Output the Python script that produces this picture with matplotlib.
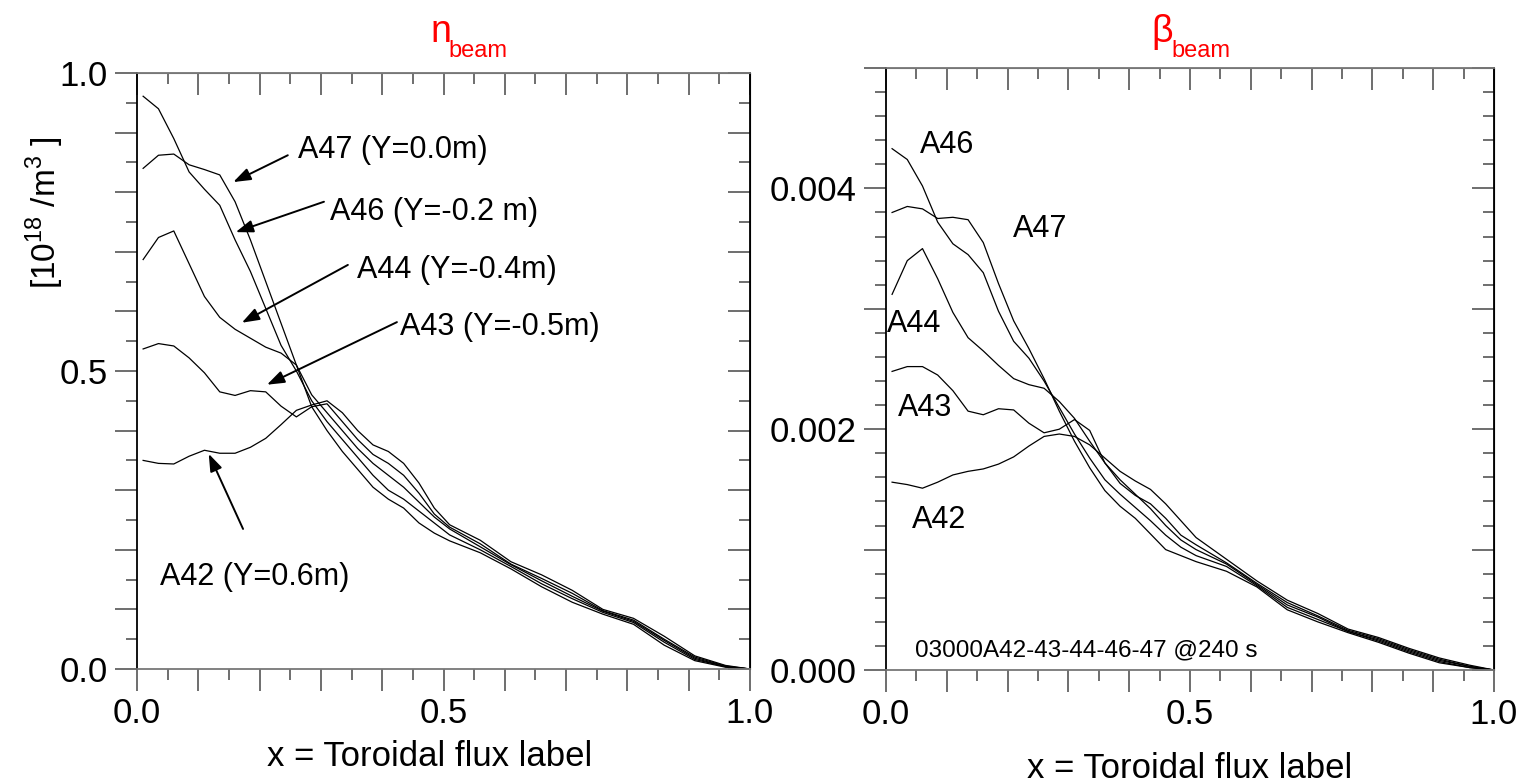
import numpy as np
import matplotlib
matplotlib.use('Agg')
import matplotlib.pyplot as plt
from matplotlib import ticker

plt.rcParams['font.family'] = ['Liberation Sans', 'DejaVu Sans']
plt.rcParams['mathtext.fontset'] = 'custom'
plt.rcParams['mathtext.rm'] = 'Liberation Sans'

# toroidal flux label grid
x = [0.01, 0.035, 0.06, 0.085, 0.11, 0.135, 0.16, 0.185, 0.21, 0.235, 0.26, 0.285,
     0.31, 0.335, 0.36, 0.385, 0.41, 0.435, 0.46, 0.485, 0.51, 0.56, 0.61, 0.66,
     0.71, 0.76, 0.81, 0.86, 0.91, 0.96, 1.0]

# n_beam [1e18 /m^3]
n_A47 = [0.840, 0.862, 0.864, 0.846, 0.838, 0.829, 0.784, 0.72, 0.65, 0.58, 0.51, 0.44,
         0.40, 0.365, 0.335, 0.305, 0.285, 0.27, 0.245, 0.228, 0.215, 0.195, 0.168, 0.138,
         0.112, 0.092, 0.075, 0.04, 0.014, 0.003, 0.0]
n_A46 = [0.961, 0.94, 0.89, 0.834, 0.805, 0.778, 0.72, 0.667, 0.605, 0.543, 0.50, 0.45,
         0.415, 0.385, 0.355, 0.325, 0.30, 0.285, 0.265, 0.245, 0.225, 0.20, 0.172, 0.143,
         0.118, 0.095, 0.078, 0.045, 0.016, 0.004, 0.0]
n_A44 = [0.687, 0.724, 0.735, 0.68, 0.625, 0.59, 0.57, 0.555, 0.54, 0.53, 0.51, 0.46,
         0.43, 0.40, 0.37, 0.345, 0.325, 0.305, 0.28, 0.255, 0.235, 0.205, 0.175, 0.148,
         0.122, 0.097, 0.08, 0.048, 0.018, 0.004, 0.0]
n_A43 = [0.537, 0.546, 0.542, 0.522, 0.497, 0.465, 0.459, 0.467, 0.465, 0.441, 0.423, 0.44,
         0.445, 0.415, 0.385, 0.36, 0.345, 0.325, 0.295, 0.26, 0.238, 0.21, 0.176, 0.152,
         0.127, 0.098, 0.082, 0.05, 0.02, 0.005, 0.0]
n_A42 = [0.35, 0.345, 0.344, 0.357, 0.367, 0.362, 0.362, 0.372, 0.387, 0.41, 0.434, 0.443,
         0.45, 0.43, 0.40, 0.376, 0.365, 0.345, 0.312, 0.27, 0.242, 0.216, 0.18, 0.158,
         0.132, 0.10, 0.085, 0.055, 0.022, 0.006, 0.0]

# beta_beam
b_A42 = [0.00156, 0.00154, 0.00151, 0.00156, 0.00162, 0.00165, 0.00167, 0.00171, 0.00177,
         0.00186, 0.00194, 0.00196, 0.00194, 0.00187, 0.00176, 0.00165, 0.00157, 0.00150,
         0.00138, 0.00124, 0.00110, 0.00092, 0.00074, 0.00058, 0.00047, 0.00034, 0.00027,
         0.00018, 0.00010, 0.00004, 0.0]
b_A43 = [0.00248, 0.00252, 0.00252, 0.00245, 0.00232, 0.00215, 0.00212, 0.00217, 0.00216,
         0.00205, 0.00197, 0.00200, 0.00208, 0.00199, 0.00172, 0.00155, 0.00145, 0.00138,
         0.00126, 0.00112, 0.00104, 0.00089, 0.00072, 0.00056, 0.00045, 0.00033, 0.00026,
         0.00017, 0.00009, 0.00003, 0.0]
b_A44 = [0.00312, 0.00340, 0.00350, 0.00325, 0.00297, 0.00276, 0.00265, 0.00253, 0.00242,
         0.00237, 0.00234, 0.00223, 0.00209, 0.00190, 0.00172, 0.00158, 0.00146, 0.00134,
         0.00120, 0.00108, 0.00100, 0.00088, 0.00071, 0.00054, 0.00044, 0.00032, 0.00025,
         0.00016, 0.00008, 0.00003, 0.0]
b_A46 = [0.00433, 0.00424, 0.00402, 0.00372, 0.00354, 0.00345, 0.00330, 0.00298, 0.00273,
         0.00259, 0.00240, 0.00218, 0.00196, 0.00176, 0.00158, 0.00146, 0.00135, 0.00124,
         0.00112, 0.00102, 0.00095, 0.00086, 0.00070, 0.00052, 0.00042, 0.00032, 0.00024,
         0.00015, 0.00007, 0.00002, 0.0]
b_A47 = [0.00380, 0.00385, 0.00383, 0.00375, 0.00376, 0.00374, 0.00355, 0.00321, 0.00290,
         0.00267, 0.00242, 0.00215, 0.00190, 0.00168, 0.00149, 0.00136, 0.00126, 0.00113,
         0.00100, 0.00095, 0.00090, 0.00082, 0.00069, 0.00050, 0.00040, 0.00031, 0.00023,
         0.00014, 0.00006, 0.00002, 0.0]

# label text, arrow head, arrow tail, text anchor (data coords, left panel)
left_notes = [
    ('A47 (Y=0.0m)', (0.157, 0.817), (0.246, 0.862), (0.263, 0.871)),
    ('A46 (Y=-0.2 m)', (0.161, 0.733), (0.305, 0.784), (0.315, 0.767)),
    ('A44 (Y=-0.4m)', (0.171, 0.581), (0.344, 0.678), (0.359, 0.669)),
    ('A43 (Y=-0.5m)', (0.212, 0.477), (0.424, 0.582), (0.429, 0.574)),
    ('A42 (Y=0.6m)', (0.117, 0.361), (0.173, 0.235), (0.0375, 0.154)),
]
right_notes = [('A46', 0.056, 0.00436), ('A47', 0.209, 0.00366), ('A44', 0.0016, 0.00287),
               ('A43', 0.02, 0.00218), ('A42', 0.043, 0.00125)]

W, H = 1524, 782
fig = plt.figure(figsize=(W / 100, H / 100), dpi=100)
ax1 = fig.add_axes([137 / W, 1 - 669 / H, 613 / W, 596 / H])
ax2 = fig.add_axes([886 / W, 1 - 670 / H, 608 / W, 602 / H])

tick_col = '#555555'
FS = 25


def style(ax, ymax, ymaj, ymin, ylab_step, fmt):
    ax.set_xlim(0, 1)
    ax.set_ylim(0, ymax)
    ax.xaxis.set_major_locator(ticker.MultipleLocator(0.1))
    ax.xaxis.set_minor_locator(ticker.MultipleLocator(0.05))
    ax.yaxis.set_major_locator(ticker.MultipleLocator(ymaj))
    ax.yaxis.set_minor_locator(ticker.MultipleLocator(ymin))
    ax.xaxis.set_major_formatter(ticker.FuncFormatter(
        lambda v, p: '%.1f' % v if abs(v * 2 - round(v * 2)) < 1e-6 else ''))
    ax.yaxis.set_major_formatter(ticker.FuncFormatter(
        lambda v, p: fmt % v if abs(v / ylab_step - round(v / ylab_step)) < 1e-6 else ''))
    ax.tick_params(which='both', direction='out', top=False, right=False,
                   color=tick_col, width=1.2, labelsize=FS)
    ax.tick_params(which='major', length=16)
    ax.tick_params(which='minor', length=8)
    ax.tick_params(axis='x', pad=4)
    ax.tick_params(axis='y', pad=5)
    for s in ['left', 'right']:
        ax.spines[s].set_color('k')
    for s in ['top', 'bottom']:
        ax.spines[s].set_color('#777777')
    for s in ax.spines.values():
        s.set_linewidth(1.3)
    sx = ax.secondary_xaxis('top')
    sx.xaxis.set_major_locator(ticker.MultipleLocator(0.1))
    sx.xaxis.set_minor_locator(ticker.MultipleLocator(0.05))
    sx.tick_params(which='both', direction='in', labeltop=False, color=tick_col, width=1.2)
    sx.tick_params(which='major', length=16)
    sx.tick_params(which='minor', length=8)
    sx.spines['top'].set_color('#777777')
    sy = ax.secondary_yaxis('right')
    sy.yaxis.set_major_locator(ticker.MultipleLocator(ymaj))
    sy.yaxis.set_minor_locator(ticker.MultipleLocator(ymin))
    sy.tick_params(which='both', direction='in', labelright=False, color=tick_col, width=1.2)
    sy.tick_params(which='major', length=16)
    sy.tick_params(which='minor', length=8)


lw = 0.9
for ys in [n_A42, n_A43, n_A44, n_A46, n_A47]:
    ax1.plot(x, ys, color='k', lw=lw)
for ys in [b_A42, b_A43, b_A44, b_A46, b_A47]:
    ax2.plot(x, ys, color='k', lw=lw)

style(ax1, 1.0, 0.1, 0.05, 0.5, '%.1f')
style(ax2, 0.005, 0.001, 0.0002, 0.002, '%.3f')

for txt, head, tail, pos in left_notes:
    ax1.annotate('', xy=head, xytext=tail,
                 arrowprops=dict(arrowstyle='-|>,head_length=0.7,head_width=0.25',
                                 color='k', lw=1.4, shrinkA=0, shrinkB=0,
                                 mutation_scale=15))
    ax1.text(pos[0], pos[1], txt, fontsize=22, ha='left', va='center')

for txt, xx, yy in right_notes:
    ax2.text(xx, yy, txt, fontsize=22, ha='left', va='center')
ax2.text(0.048, 0.000166, '03000A42-43-44-46-47 @240 s', fontsize=17.5,
         ha='left', va='center')

ax1.text(-0.15, 0.765, r'[10$^{18}$ /m$^{3}$ ]', rotation=90, fontsize=24,
         ha='center', va='center', transform=ax1.transAxes)

# titles
fig.text(430 / W, 1 - 42 / H, 'n', color='red', fontsize=27, va='baseline')
fig.text(448 / W, 1 - 57 / H, 'beam', color='red', fontsize=17, va='baseline')
fig.text(1151 / W, 1 - 42 / H, 'β', color='red', fontsize=27, va='baseline')
fig.text(1171 / W, 1 - 57 / H, 'beam', color='red', fontsize=17, va='baseline')

fig.text(430 / W, 1 - 757 / H, 'x = Toroidal flux label', fontsize=FS,
         ha='center', va='center')
fig.text(1190 / W, 1 - 768 / H, 'x = Toroidal flux label', fontsize=FS,
         ha='center', va='center')

fig.savefig('out.png', dpi=100)
